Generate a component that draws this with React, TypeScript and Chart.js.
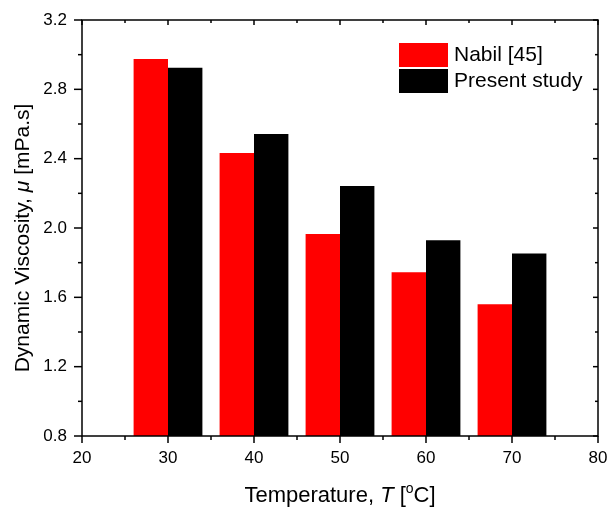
import React, { useEffect, useRef } from "react";
import { Chart, registerables } from "chart.js";

Chart.register(...registerables);

const temperatures = [30, 40, 50, 60, 70];
const nabilValues = [2.975, 2.432, 1.965, 1.745, 1.56];
const presentValues = [2.925, 2.542, 2.243, 1.93, 1.853];
const seriesNames = ["Nabil [45]", "Present study"];
const seriesColors = ["#ff0000", "#000000"];
const xRange = [20, 80];
const xStep = 10;
const yRange = [0.8, 3.2];
const yStep = 0.4;

const FONT = "'Liberation Sans', Arial, Helvetica, sans-serif";

type Seg = { t: string; italic?: boolean; sup?: boolean };

function segWidth(ctx: CanvasRenderingContext2D, s: Seg, size: number) {
  ctx.font = `${s.italic ? "italic " : ""}${s.sup ? Math.round(size * 0.62) : size}px ${FONT}`;
  return ctx.measureText(s.t).width;
}

function drawSegs(ctx: CanvasRenderingContext2D, segs: Seg[], size: number, cx: number, baseline: number) {
  let total = 0;
  segs.forEach((s) => (total += segWidth(ctx, s, size)));
  let x = cx - total / 2;
  ctx.textAlign = "left";
  ctx.textBaseline = "alphabetic";
  segs.forEach((s) => {
    const w = segWidth(ctx, s, size);
    ctx.fillText(s.t, x, s.sup ? baseline - size * 0.42 : baseline);
    x += w;
  });
}

const framePlugin = {
  id: "framePlugin",
  afterDraw(chart: any) {
    const ctx: CanvasRenderingContext2D = chart.ctx;
    const { left, right, top, bottom } = chart.chartArea;
    const xs = chart.scales.x;
    const ys = chart.scales.y;
    ctx.save();
    ctx.strokeStyle = "#000";
    ctx.fillStyle = "#000";
    ctx.lineWidth = 1.5;
    ctx.strokeRect(left, top, right - left, bottom - top);
    const line = (x1: number, y1: number, x2: number, y2: number) => {
      ctx.beginPath();
      ctx.moveTo(x1, y1);
      ctx.lineTo(x2, y2);
      ctx.stroke();
    };
    const xt = xs.ticks.map((t: any) => t.value);
    xt.forEach((v: number, i: number) => {
      const p = xs.getPixelForValue(v);
      line(p, bottom, p, bottom + 7);
      line(p, top, p, top + 5);
      if (i < xt.length - 1) {
        const m = xs.getPixelForValue((v + xt[i + 1]) / 2);
        line(m, bottom, m, bottom + 4);
        line(m, top, m, top + 3);
      }
    });
    const yt = ys.ticks.map((t: any) => t.value);
    yt.forEach((v: number, i: number) => {
      const p = ys.getPixelForValue(v);
      line(left - 8, p, left, p);
      line(right - 5, p, right, p);
      if (i < yt.length - 1) {
        const m = ys.getPixelForValue((v + yt[i + 1]) / 2);
        line(left - 4, m, left, m);
        line(right - 3, m, right, m);
      }
    });

    // legend
    const lx = 399;
    const ly = 43;
    chart.data.datasets.forEach((ds: any, i: number) => {
      const y = ly + i * 26;
      ctx.fillStyle = ds.backgroundColor;
      ctx.fillRect(lx, y, 49, 24);
      ctx.fillStyle = "#000";
      ctx.font = `21px ${FONT}`;
      ctx.textAlign = "left";
      ctx.textBaseline = "middle";
      ctx.fillText(ds.label, lx + 55, y + 12);
    });

    // x title
    ctx.fillStyle = "#000";
    drawSegs(
      ctx,
      [{ t: "Temperature, " }, { t: "T", italic: true }, { t: " [" }, { t: "o", sup: true }, { t: "C]" }],
      22,
      (left + right) / 2,
      502
    );

    // y title
    ctx.save();
    ctx.translate(29, 238);
    ctx.rotate(-Math.PI / 2);
    drawSegs(ctx, [{ t: "Dynamic Viscosity, " }, { t: "μ", italic: true }, { t: " [mPa.s]" }], 21, 0, 0);
    ctx.restore();
    ctx.restore();
  },
};

const zeroPad = (s: any) => {
  s.paddingLeft = 0;
  s.paddingRight = 0;
  s.paddingTop = 0;
  s.paddingBottom = 0;
};

export default function App() {
  const ref = useRef<HTMLCanvasElement>(null);
  useEffect(() => {
    if (!ref.current) return;
    const chart = new Chart(ref.current, {
      type: "bar",
      data: {
        datasets: [
          {
            label: seriesNames[0],
            data: temperatures.map((t, i) => ({ x: t, y: nabilValues[i] })),
            backgroundColor: seriesColors[0],
            borderWidth: 0,
          },
          {
            label: seriesNames[1],
            data: temperatures.map((t, i) => ({ x: t, y: presentValues[i] })),
            backgroundColor: seriesColors[1],
            borderWidth: 0,
          },
        ],
      },
      options: {
        animation: false,
        responsive: false,
        devicePixelRatio: 1,
        layout: { padding: { top: 20, right: 10, left: 0, bottom: 0 } },
        plugins: { legend: { display: false }, tooltip: { enabled: false } },
        datasets: { bar: { barPercentage: 1, categoryPercentage: 0.8 } },
        scales: {
          x: {
            type: "linear",
            min: xRange[0],
            max: xRange[1],
            offset: false,
            grid: { display: false, drawTicks: false },
            border: { display: false },
            ticks: { stepSize: xStep, padding: 12, color: "#000", font: { family: FONT, size: 17 } },
            afterFit: (s: any) => {
              s.height = 72;
              zeroPad(s);
            },
          },
          y: {
            min: yRange[0],
            max: yRange[1],
            grid: { display: false, drawTicks: false },
            border: { display: false },
            ticks: {
              stepSize: yStep,
              padding: 15,
              color: "#000",
              font: { family: FONT, size: 17 },
              callback: (v: any) => Number(v).toFixed(1),
            },
            afterFit: (s: any) => {
              s.width = 82;
              zeroPad(s);
            },
          },
        },
      } as any,
      plugins: [framePlugin],
    });
    return () => chart.destroy();
  }, []);
  return (
    <div style={{ position: "fixed", left: 0, top: 0, width: 608, height: 508, background: "#fff" }}>
      <canvas ref={ref} width={608} height={508} />
    </div>
  );
}
